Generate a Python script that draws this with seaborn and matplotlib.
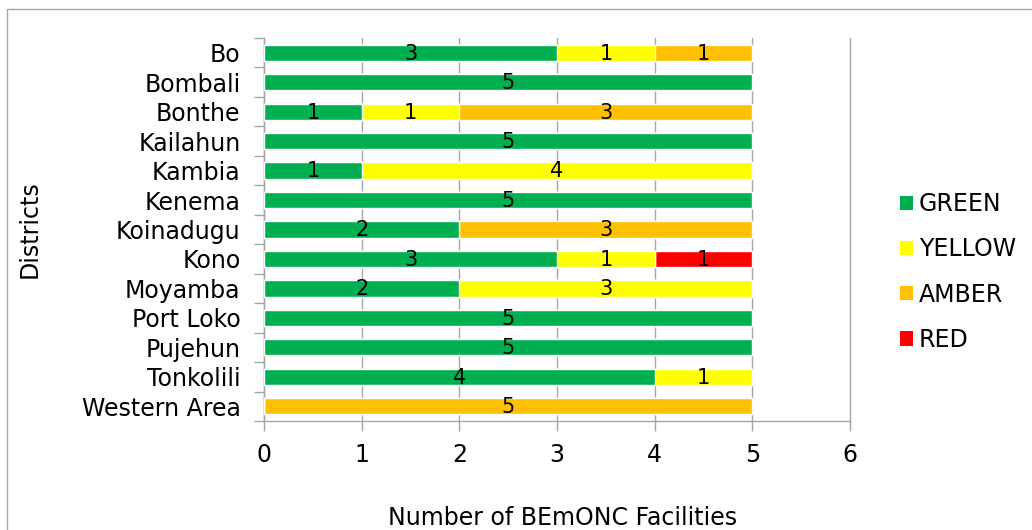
import numpy as np
import pandas as pd
import matplotlib
matplotlib.use("Agg")
import matplotlib.pyplot as plt
import seaborn as sns
from matplotlib.patches import Rectangle, Patch

# 數據
districts = ["Bo", "Bombali", "Bonthe", "Kailahun", "Kambia", "Kenema", "Koinadugu",
             "Kono", "Moyamba", "Port Loko", "Pujehun", "Tonkolili", "Western Area"]
green = [3, 5, 1, 5, 1, 5, 2, 3, 2, 5, 5, 4, 0]
yellow = [1, 0, 1, 0, 4, 0, 0, 1, 3, 0, 0, 1, 0]
amber = [1, 0, 3, 0, 0, 0, 3, 0, 0, 0, 0, 0, 5]
red = [0, 0, 0, 0, 0, 0, 0, 1, 0, 0, 0, 0, 0]

series = ["GREEN", "YELLOW", "AMBER", "RED"]
colors = {"GREEN": "#00B050", "YELLOW": "#FFFF00", "AMBER": "#FFC000", "RED": "#FF0000"}

df = pd.DataFrame({"District": districts, "GREEN": green, "YELLOW": yellow,
                   "AMBER": amber, "RED": red})
cum = df[series].cumsum(axis=1)

sns.set_theme(style="white")
plt.rcParams["font.family"] = ["DejaVu Sans"]
plt.rcParams["text.color"] = "black"
plt.rcParams["xtick.color"] = "#A6A6A6"
plt.rcParams["ytick.color"] = "#A6A6A6"
plt.rcParams["xtick.labelcolor"] = "black"
plt.rcParams["ytick.labelcolor"] = "black"
plt.rcParams["axes.labelcolor"] = "black"

FS = 17

fig = plt.figure(figsize=(10.32, 5.30), dpi=100)
ax = fig.add_axes([264 / 1032, 1 - 421 / 530, (850 - 264) / 1032, (421 - 38) / 530])

# 堆疊：先畫總和，再依序覆蓋
for s in reversed(series):
    sns.barplot(x=cum[s], y=df["District"], orient="h", color=colors[s],
                width=0.55, saturation=1, ax=ax, zorder=3)

# 數值標籤
for i in range(len(df)):
    left = 0
    for s in series:
        v = df[s].iloc[i]
        if v > 0:
            ax.text(left + v / 2, i + 0.03, str(v), ha="center", va="center",
                    fontsize=15, color="black", zorder=5)
        left += v

ax.set_xlim(0, 6)
ax.set_ylim(12.5, -0.5)
ax.set_xticks(range(7))
ax.grid(axis="x", color="#A6A6A6", linewidth=1, zorder=0)
ax.grid(axis="y", visible=False)
for gl in ax.get_xgridlines():
    gl.set_clip_on(False)
ax.set_yticks(np.arange(-0.5, 13, 1), minor=True)
ax.tick_params(axis="y", which="minor", left=True, length=7, width=1)
ax.tick_params(axis="y", which="major", left=False, length=0, labelsize=FS, pad=17)
ax.tick_params(axis="x", bottom=True, length=7, width=1, labelsize=FS, pad=9)
for sp in ["top", "right"]:
    ax.spines[sp].set_visible(False)
for sp in ["left", "bottom"]:
    ax.spines[sp].set_color("#A6A6A6")
    ax.spines[sp].set_linewidth(1)

ax.set_xlabel("")
ax.set_ylabel("")
fig.text(30 / 1032, 1 - 229 / 530, "Districts", rotation=90, ha="center",
         va="center", fontsize=FS)
fig.text(563 / 1032, 1 - 518 / 530, "Number of BEmONC Facilities", ha="center",
         va="center", fontsize=FS)

handles = [Patch(facecolor=colors[s], edgecolor="none", label=s) for s in series]
fig.legend(handles=handles, loc="center left", bbox_to_anchor=(900 / 1032, 1 - 272 / 530),
           frameon=False, fontsize=FS, handlelength=0.55, handleheight=0.55,
           handletextpad=0.25, labelspacing=0.9, borderpad=0, borderaxespad=0)

# 外框
fig.patches.append(Rectangle((7 / 1032, -0.05), 1.1, 1 - 9 / 530 + 0.05,
                             transform=fig.transFigure, fill=False,
                             edgecolor="#A6A6A6", linewidth=1))

fig.savefig("out.png", dpi=100)
